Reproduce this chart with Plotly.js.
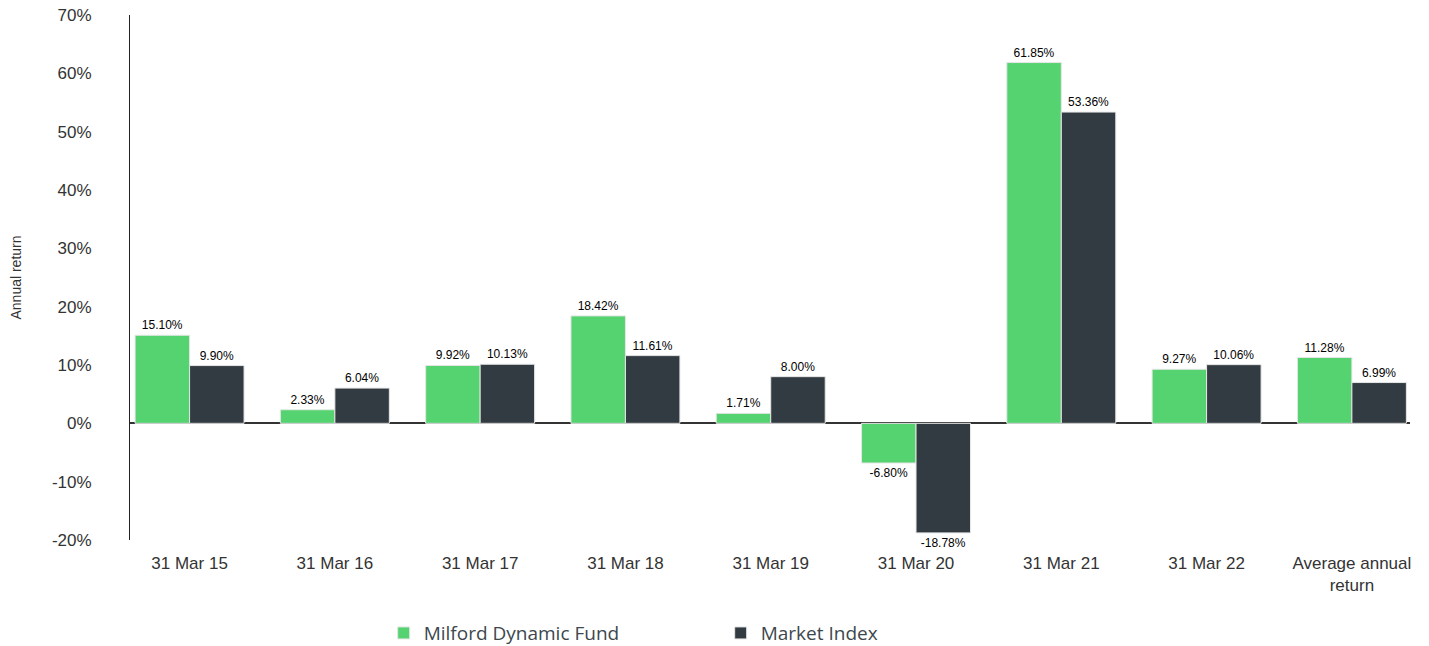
<!DOCTYPE html>
<html>
<head>
<meta charset="utf-8">
<script src="https://cdn.plot.ly/plotly-3.0.1.min.js"></script>
<style>html,body{margin:0;padding:0;background:#fff;}#chart{width:1429px;height:646px;}</style>
</head>
<body>
<div id="chart"></div>
<script>
const categories = ["31 Mar 15", "31 Mar 16", "31 Mar 17", "31 Mar 18", "31 Mar 19", "31 Mar 20", "31 Mar 21", "31 Mar 22", "Average annual<br>return"];
const fundName = "Milford Dynamic Fund";
const indexName = "Market Index";
const fundValues = [15.10, 2.33, 9.92, 18.42, 1.71, -6.80, 61.85, 9.27, 11.28];
const indexValues = [9.90, 6.04, 10.13, 11.61, 8.00, -18.78, 53.36, 10.06, 6.99];
const yTickVals = [-20, -10, 0, 10, 20, 30, 40, 50, 60, 70];
const yTickText = ["-20%", "-10%", "0%", "10%", "20%", "30%", "40%", "50%", "60%", "70%"];

const labelFont = {family: "Liberation Sans, Arial, sans-serif", size: 12, color: "#000"};
const traces = [
  {type: "bar", name: fundName, x: categories, y: fundValues,
   marker: {color: "#55D370", line: {color: "#e6e6e6", width: 1}},
   text: fundValues.map(v => v.toFixed(2) + "%"), textposition: "outside",
   textfont: labelFont, cliponaxis: false, hoverinfo: "x+y"},
  {type: "bar", name: indexName, x: categories, y: indexValues,
   marker: {color: "#323B41", line: {color: "#e6e6e6", width: 1}},
   text: indexValues.map(v => v.toFixed(2) + "%"), textposition: "outside",
   textfont: labelFont, cliponaxis: false, hoverinfo: "x+y"}
];
const layout = {
  width: 1429, height: 646,
  margin: {l: 130, r: 19, t: 15, b: 106},
  paper_bgcolor: "#fff", plot_bgcolor: "#fff",
  barmode: "group", bargap: 0.25, bargroupgap: 0,
  showlegend: true,
  legend: {orientation: "h", xref: "container", yref: "container",
           x: 0.2685, xanchor: "left", y: 0.02, yanchor: "middle",
           font: {family: "Open Sans, sans-serif", size: 19, color: "#3d474d"},
           entrywidth: 292, entrywidthmode: "pixels", itemwidth: 30},
  xaxis: {type: "category", range: [-0.41, 8.4], showline: false, showgrid: false, zeroline: false,
          automargin: false, ticks: "", ticklabelstandoff: 11,
          tickfont: {family: "Liberation Sans, Arial, sans-serif", size: 17, color: "#333"}},
  yaxis: {range: [-20, 70], tickvals: yTickVals, ticktext: yTickText, showgrid: false,
          automargin: false,
          showline: true, linecolor: "#222", linewidth: 1,
          zeroline: true, zerolinecolor: "#333", zerolinewidth: 1.5,
          ticks: "", ticklabelstandoff: 34,
          tickfont: {family: "Liberation Sans, Arial, sans-serif", size: 17, color: "#333"},
          title: {text: "Annual return", standoff: 27, font: {family: "Liberation Sans, Arial, sans-serif", size: 14, color: "#333"}}}
};
Plotly.newPlot("chart", traces, layout, {displayModeBar: false, responsive: false});
</script>
</body>
</html>
